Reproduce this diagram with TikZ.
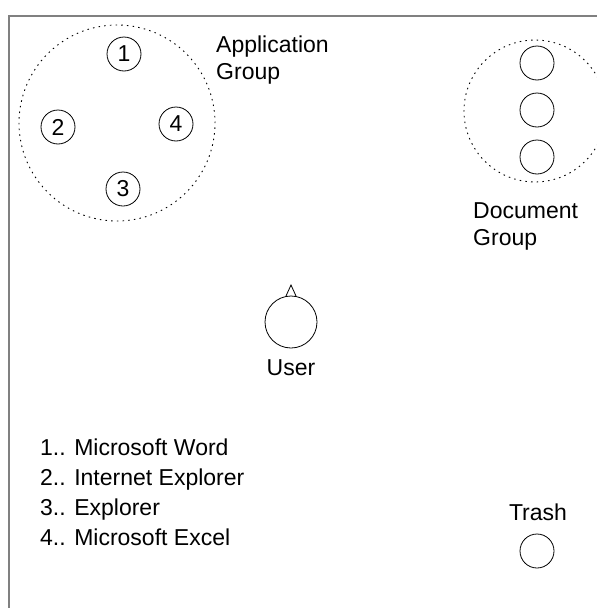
\documentclass[tikz,border=0pt]{standalone}
\usepackage{fontspec}
\setmainfont{Liberation Sans}
\begin{document}
\begin{tikzpicture}[x=1pt,y=-1pt,
  every node/.style={font=\fontsize{23}{27}\selectfont, inner sep=0pt},
  item/.style={draw, circle, line width=0.8pt, minimum size=34pt},
  group/.style={draw, circle, line width=0.9pt, dash pattern=on 1.5pt off 4.2pt},
  label/.style={anchor=base west},
  frameline/.style={draw=gray, line width=2pt}
]
\useasboundingbox (0,0) rectangle (597,608);
% outer frame (top and left edges)
\coordinate (fbl) at (9,609);
\coordinate (ftl) at (9,16);
\coordinate (ftr) at (598,16);
\draw[frameline] (fbl) -- (ftl) -- (ftr);

% application group
\node[group, minimum size=196pt] (appgrp) at (117,123) {};
\node[item] (a1) at (124,54) {1};
\node[item] (a2) at (58,127) {2};
\node[item] (a4) at (176,124) {4};
\node[item] (a3) at (123,189) {3};
\node[label] (applbl1) at (216,52) {Application};
\node[label] (applbl2) at (216,79) {Group};

% document group
\node[group, minimum size=142pt] (docgrp) at (535,111) {};
\node[item] (d1) at (537,63) {};
\node[item] (d2) at (537,110) {};
\node[item] (d3) at (537,157) {};
\node[label] (doclbl1) at (473,218) {Document};
\node[label] (doclbl2) at (473,245) {Group};

% user
\node[item, minimum size=52pt] (user) at (291,322) {};
\coordinate (tipL) at (286,296);
\coordinate (tipR) at (296,296);
\coordinate (tipT) at (291,285);
\draw[line width=0.8pt] (tipL) -- (tipT) -- (tipR);
\node[anchor=base] (userlbl) at (291,375) {User};

% trash
\node[anchor=base] (trashlbl) at (538,520) {Trash};
\node[item] (trash) at (537,551) {};

% legend
\node[label] (leg1) at (40,455) {1.. Microsoft Word};
\node[label] (leg2) at (40,485) {2.. Internet Explorer};
\node[label] (leg3) at (40,515) {3.. Explorer};
\node[label] (leg4) at (40,545) {4.. Microsoft Excel};
\end{tikzpicture}
\end{document}
